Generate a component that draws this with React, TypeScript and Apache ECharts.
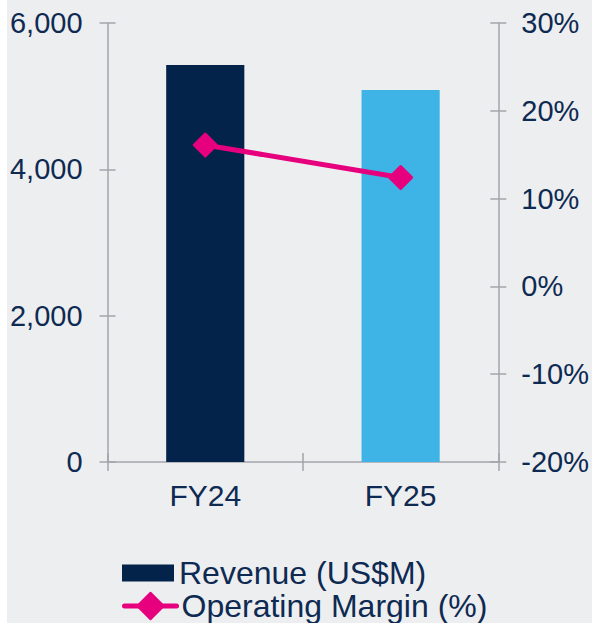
import React, { useEffect, useRef } from "react";
import * as echarts from "echarts";

const categories = ["FY24", "FY25"];
const revenue = [5425, 5085];
const operatingMargin = [16.1, 12.4];
const barColors = ["#03234B", "#3DB4E5"];
const revenueTicks = { min: 0, max: 6000, interval: 2000 };
const marginTicks = { min: -20, max: 30, interval: 10 };

const TEXT = "#0E2A52";
const AXIS = "#A2A5AB";
const PINK = "#E6007E";
const FONT = "'Liberation Sans', Arial, sans-serif";

export default function App() {
  const ref = useRef<HTMLDivElement>(null);
  useEffect(() => {
    if (!ref.current) return;
    const chart = echarts.init(ref.current, undefined, { renderer: "svg" });
    const tickOut = { show: true, length: 8, inside: false, lineStyle: { color: AXIS, width: 1.5 } };
    const tickIn = { show: true, length: 8, inside: true, lineStyle: { color: AXIS, width: 1.5 } };
    chart.setOption({
      animation: false,
      backgroundColor: "#EDEEF0",
      textStyle: { fontFamily: FONT },
      grid: { left: 98, right: 93, top: 23, bottom: 161, containLabel: false },
      legend: [
        {
          data: [{ name: "Revenue (US$M)", icon: "rect", itemStyle: { color: barColors[0] } }],
          left: 115,
          top: 557,
          padding: 0,
          itemWidth: 52,
          itemHeight: 17,
          itemGap: 5,
          textStyle: { color: TEXT, fontSize: 32, fontFamily: FONT },
        },
        {
          data: [
            {
              name: "Operating Margin (%)",
              lineStyle: { color: PINK, width: 5, cap: "round" },
              itemStyle: { color: PINK },
            },
          ],
          left: 115,
          top: 590,
          padding: 0,
          itemWidth: 52,
          itemHeight: 33,
          textStyle: { color: TEXT, fontSize: 32, fontFamily: FONT },
        },
      ],
      xAxis: [
        {
          type: "category",
          data: categories,
          position: "bottom",
          axisLine: { show: true, onZero: false, lineStyle: { color: AXIS, width: 1.5 } },
          axisTick: { ...tickOut, length: 9 },
          axisLabel: { color: TEXT, fontSize: 30, margin: 18, fontFamily: FONT },
          splitLine: { show: false },
        },
        {
          type: "category",
          data: categories,
          position: "bottom",
          axisLine: { show: false, onZero: false },
          axisTick: { ...tickIn, length: 9 },
          axisLabel: { show: false },
          splitLine: { show: false },
        },
      ],
      yAxis: [
        {
          type: "value",
          position: "left",
          ...revenueTicks,
          axisLine: { show: true, lineStyle: { color: AXIS, width: 1.5 } },
          axisTick: tickOut,
          axisLabel: {
            color: TEXT,
            fontSize: 29,
            margin: 25,
            fontFamily: FONT,
            formatter: (v: number) => v.toLocaleString("en-US"),
          },
          splitLine: { show: false },
        },
        {
          type: "value",
          position: "right",
          ...marginTicks,
          axisLine: { show: true, lineStyle: { color: AXIS, width: 1.5 } },
          axisTick: tickOut,
          axisLabel: { color: TEXT, fontSize: 29, margin: 23, fontFamily: FONT, formatter: "{value}%" },
          splitLine: { show: false },
        },
        {
          type: "value",
          position: "left",
          ...revenueTicks,
          axisLine: { show: false },
          axisTick: tickIn,
          axisLabel: { show: false },
          splitLine: { show: false },
        },
        {
          type: "value",
          position: "right",
          ...marginTicks,
          axisLine: { show: false },
          axisTick: tickIn,
          axisLabel: { show: false },
          splitLine: { show: false },
        },
      ],
      series: [
        {
          name: "Revenue (US$M)",
          type: "bar",
          xAxisIndex: 0,
          yAxisIndex: 0,
          barWidth: "40%",
          data: revenue.map((v, i) => ({ value: v, itemStyle: { color: barColors[i] } })),
          itemStyle: { color: barColors[0] },
        },
        {
          name: "Operating Margin (%)",
          type: "line",
          xAxisIndex: 0,
          yAxisIndex: 1,
          data: operatingMargin,
          symbol: "diamond",
          symbolSize: 22,
          lineStyle: { color: PINK, width: 5 },
          itemStyle: { color: PINK, borderColor: PINK, borderWidth: 3, borderJoin: "round" },
          z: 5,
        },
      ],
    });
    return () => chart.dispose();
  }, []);
  return (
    <div
      ref={ref}
      style={{ position: "fixed", left: 7, top: 0, width: 585, height: 623 }}
    />
  );
}
